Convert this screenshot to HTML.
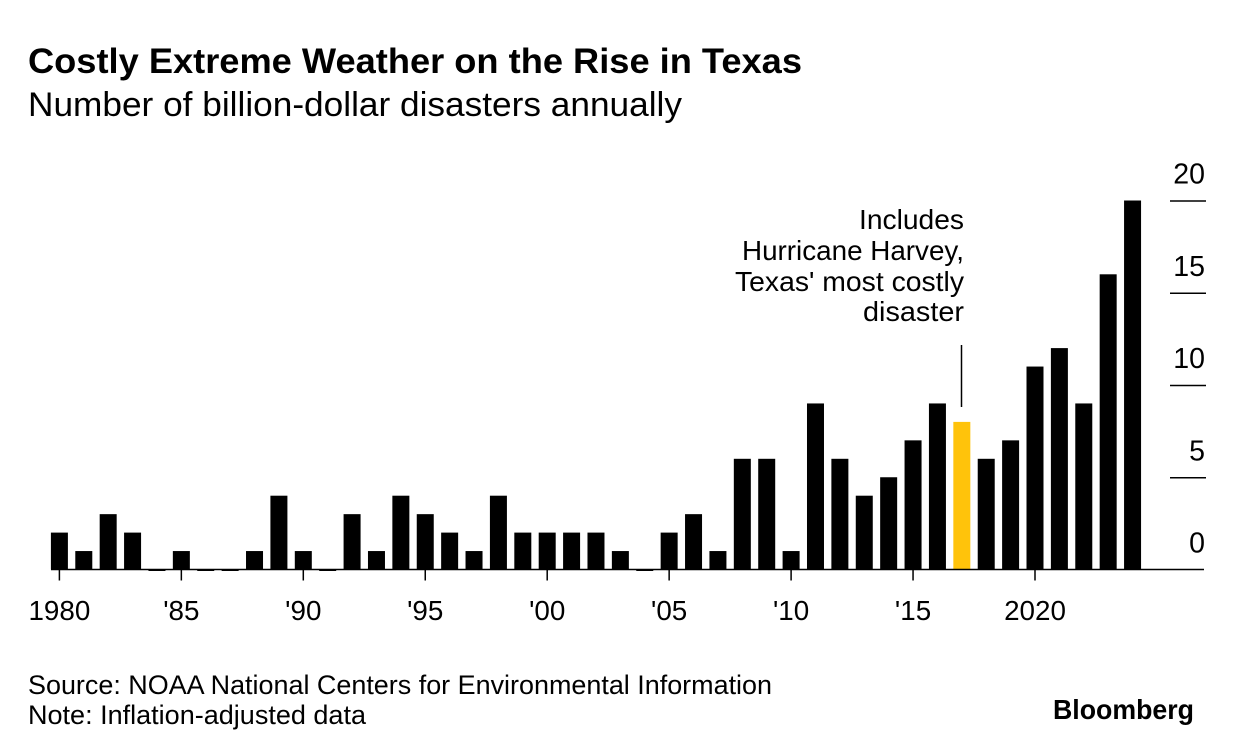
<!DOCTYPE html>
<html>
<head>
<meta charset="utf-8">
<style>
html,body{margin:0;padding:0;background:#fff;width:1233px;height:754px;overflow:hidden}
svg{display:block;font-family:"Liberation Sans",sans-serif}
text{fill:#000}
</style>
</head>
<body>
<svg id="chart" width="1233" height="754" viewBox="0 0 1233 754" xmlns="http://www.w3.org/2000/svg">
<text x="28" y="73" font-size="35.5" font-weight="700" textLength="774" lengthAdjust="spacingAndGlyphs">Costly Extreme Weather on the Rise in Texas</text>
<text x="28" y="116" font-size="34" textLength="654" lengthAdjust="spacingAndGlyphs">Number of billion-dollar disasters annually</text>
<g id="bars"></g>
<g id="xaxis"></g>
<g id="yaxis"></g>
<g font-size="27.8" text-anchor="end">
<text x="964" y="229" textLength="105" lengthAdjust="spacingAndGlyphs">Includes</text>
<text x="964" y="260" textLength="222" lengthAdjust="spacingAndGlyphs">Hurricane Harvey,</text>
<text x="964" y="291" textLength="229" lengthAdjust="spacingAndGlyphs">Texas' most costly</text>
<text x="964" y="321" textLength="101" lengthAdjust="spacingAndGlyphs">disaster</text>
<line x1="961.5" x2="961.5" y1="345" y2="407" stroke="#000" stroke-width="1.5"></line>
</g>
<text x="28" y="694" font-size="27" textLength="744" lengthAdjust="spacingAndGlyphs">Source: NOAA National Centers for Environmental Information</text>
<text x="28" y="724" font-size="27" textLength="338" lengthAdjust="spacingAndGlyphs">Note: Inflation-adjusted data</text>
<text x="1053" y="719" font-size="28" font-weight="700" textLength="141" lengthAdjust="spacingAndGlyphs">Bloomberg</text>
</svg>
<script>
const years = [1980,1981,1982,1983,1984,1985,1986,1987,1988,1989,1990,1991,1992,1993,1994,1995,1996,1997,1998,1999,2000,2001,2002,2003,2004,2005,2006,2007,2008,2009,2010,2011,2012,2013,2014,2015,2016,2017,2018,2019,2020,2021,2022,2023,2024];
const disasters = [2,1,3,2,0,1,0,0,1,4,1,0,3,1,4,3,2,1,4,2,2,2,2,1,0,2,3,1,6,6,1,9,6,4,5,7,9,8,6,7,11,12,9,16,20];
const highlightYear = 2017;
const xTickYears = [1980,1985,1990,1995,2000,2005,2010,2015,2020];
const xTickLabels = ['1980',"'85","'90","'95","'00","'05","'10","'15",'2020'];
const yTicks = [0,5,10,15,20];

const NS = 'http://www.w3.org/2000/svg';
function xScale(year){ return 59.4 + (year - 1980) * 24.39; }
function yScale(v){ return 569.5 - v * 18.45; }
function make(tag, attrs, parent){
  const el = document.createElementNS(NS, tag);
  for (const k in attrs) el.setAttribute(k, attrs[k]);
  parent.appendChild(el);
  return el;
}
const barsG = document.getElementById('bars');
const xG = document.getElementById('xaxis');
const yG = document.getElementById('yaxis');
const BAR_W = 17;

years.forEach(function(year, i){
  const v = disasters[i];
  const top = yScale(v);
  const h = Math.max(yScale(0) - top, 0);
  const r = make('rect', {
    x: xScale(year) - BAR_W / 2,
    y: v === 0 ? yScale(0) : top,
    width: BAR_W,
    height: v === 0 ? 1.5 : h,
    fill: year === highlightYear ? '#ffc30b' : '#000'
  }, barsG);
  
  
});

const baseline = make('line', {x1: 51, x2: 1204, y1: yScale(0), y2: yScale(0), stroke: '#000', 'stroke-width': 1.5}, xG);



xTickYears.forEach(function(year, i){
  const x = xScale(year);
  const t = make('line', {x1: x, x2: x, y1: yScale(0), y2: yScale(0) + 11, stroke: '#000', 'stroke-width': 1.5}, xG);
  
  
  const l = make('text', {x: x, y: 620, 'font-size': 27.8, 'text-anchor': 'middle'}, xG);
  l.textContent = xTickLabels[i];
  
  
});

yTicks.forEach(function(v){
  const y = yScale(v);
  if (v !== 0) {
    const t = make('line', {x1: 1170, x2: 1206, y1: y + 0.5, y2: y + 0.5, stroke: '#000', 'stroke-width': 1.5}, yG);
    
    
  }
  const l = make('text', {x: 1205, y: y - 17, 'font-size': 28.5, 'text-anchor': 'end'}, yG);
  l.textContent = String(v);
  
  
});
</script>
</body>
</html>
